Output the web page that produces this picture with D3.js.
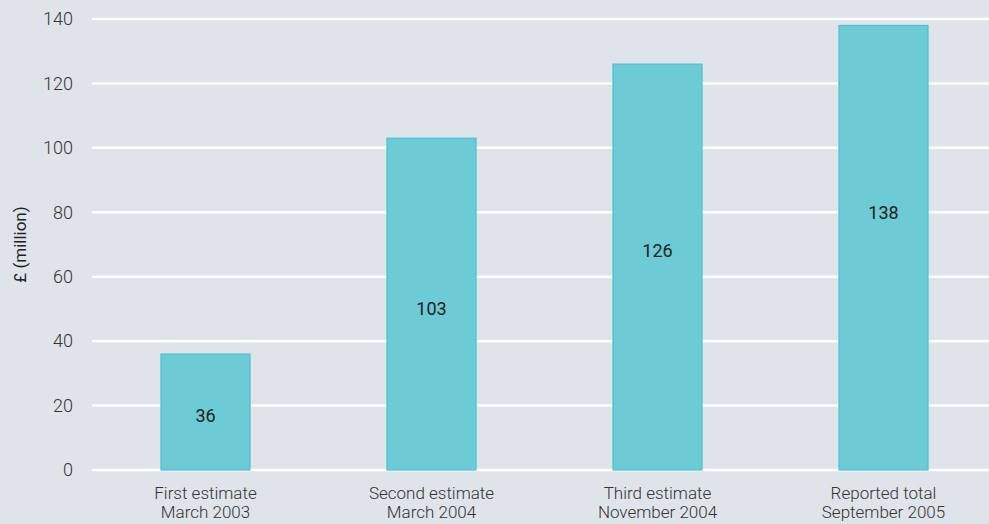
<!DOCTYPE html>
<html>
<head>
<meta charset="utf-8">
<script src="https://cdn.jsdelivr.net/npm/d3@7"></script>
<style>
  body { margin: 0; background: #dfe4ea; }
  svg { display: block; font-family: Roboto, "Liberation Sans", sans-serif; }
</style>
</head>
<body>
<div id="chart"></div>
<script>
var width = 989,
    height = 524;

// data
var categories = [
    ["First estimate", "March 2003"],
    ["Second estimate", "March 2004"],
    ["Third estimate", "November 2004"],
    ["Reported total", "September 2005"]
];
var values = [36, 103, 126, 138];
// where the value labels sit, in £ million
var labelAt = [17, 50, 68, 80];
var yTicks = [0, 20, 40, 60, 80, 100, 120, 140];

var margin = {top: 19, right: 0, bottom: 54, left: 92};

var svg = d3.select("#chart")
    .append("svg")
    .attr("width", width)
    .attr("height", height);

svg.append("rect")
    .attr("width", width)
    .attr("height", height)
    .attr("fill", "#dfe4ea");

var x = d3.scaleBand()
    .domain(d3.range(values.length))
    .range([margin.left + 0.5, 996.5])
    .paddingInner(0.606)
    .paddingOuter(0.303);

var y = d3.scaleLinear()
    .domain([0, 140])
    .range([height - margin.bottom, margin.top]);

// grid
svg.selectAll(".grid")
    .data(yTicks)
    .enter().append("line")
    .attr("class", "grid")
    .attr("x1", margin.left)
    .attr("x2", width)
    .attr("y1", function(d) { return y(d); })
    .attr("y2", function(d) { return y(d); })
    .attr("stroke", "#ffffff")
    .attr("stroke-width", 2.5);

// y tick labels
svg.selectAll(".ytick")
    .data(yTicks)
    .enter().append("text")
    .attr("class", "ytick")
    .attr("x", 73)
    .attr("y", function(d) { return y(d); })
    .attr("dy", "0.35em")
    .attr("text-anchor", "end")
    .attr("font-size", 18)
    .attr("font-weight", 300)
    .attr("fill", "#333")
    .text(function(d) { return d; });

// bars
svg.selectAll(".bar")
    .data(values)
    .enter().append("rect")
    .attr("class", "bar")
    .attr("x", function(d, i) { return x(i); })
    .attr("y", function(d) { return y(d); })
    .attr("width", x.bandwidth())
    .attr("height", function(d) { return y(0) - y(d); })
    .attr("fill", "#6ccbd4")
    .attr("stroke", "#4cc3ce")
    .attr("stroke-width", 1.2);

// value labels
svg.selectAll(".val")
    .data(values)
    .enter().append("text")
    .attr("class", "val")
    .attr("x", function(d, i) { return x(i) + x.bandwidth() / 2; })
    .attr("y", function(d, i) { return y(labelAt[i]); })
    .attr("dy", "0.35em")
    .attr("text-anchor", "middle")
    .attr("font-size", 18)
    .attr("fill", "#222")
    .text(function(d) { return d; });

// category labels
var cat = svg.selectAll(".cat")
    .data(categories)
    .enter().append("text")
    .attr("class", "cat")
    .attr("text-anchor", "middle")
    .attr("font-size", 17)
    .attr("font-weight", 300)
    .attr("fill", "#333");

cat.selectAll("tspan")
    .data(function(d, i) { return d.map(function(s) { return {s: s, i: i}; }); })
    .enter().append("tspan")
    .attr("x", function(d) { return x(d.i) + x.bandwidth() / 2; })
    .attr("y", function(d, j) { return 499 + j * 19; })
    .text(function(d) { return d.s; });

// y axis title
svg.append("text")
    .attr("transform", "translate(26," + ((y(0) + y(140)) / 2) + ") rotate(-90)")
    .attr("text-anchor", "middle")
    .attr("font-size", 17)
    .attr("fill", "#222")
    .text("£ (million)");
</script>
</body>
</html>
